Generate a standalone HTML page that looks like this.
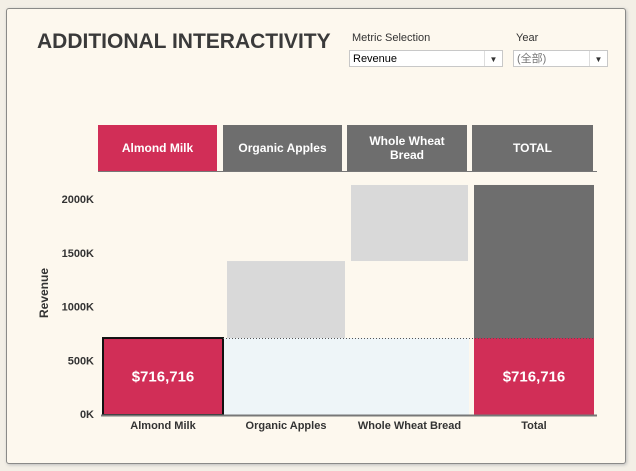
<!DOCTYPE html>
<html><head><meta charset="utf-8"><style>
body{margin:0;width:636px;height:471px;background:#f3efe6;font-family:"Liberation Sans","Noto Sans CJK SC",sans-serif;position:relative;overflow:hidden}
.panel{position:absolute;left:6px;top:8px;width:618px;height:454px;background:#fdf8ee;border:1px solid #8a8a88;border-radius:3px;box-shadow:1px 1px 3px #bbb}
.abs{position:absolute}
.title{left:37px;top:30px;font-size:21px;font-weight:bold;color:#3a3a3a}
.lbl{font-size:11px;color:#333}
.dd{height:17px;border:1px solid #c8c8c8;background:#fff;font-size:11px;line-height:17px;padding-left:3px;box-sizing:border-box}
.dd .arr{position:absolute;right:0;top:0;width:17px;height:15px;border-left:1px solid #ddd;font-size:8px;text-align:center;color:#333}
.hb{top:125px;height:46px;color:#fff;font-weight:bold;font-size:12px;display:flex;align-items:center;justify-content:center;text-align:center;line-height:14px}
</style></head><body>
<div class="panel"></div>
<div class="abs title">ADDITIONAL INTERACTIVITY</div>
<div class="abs lbl" style="left:352px;top:32px">Metric Selection</div>
<div class="abs dd" style="left:349px;top:50px;width:154px">Revenue<span class="arr">▼</span></div>
<div class="abs lbl" style="left:516px;top:32px">Year</div>
<div class="abs dd" style="left:513px;top:50px;width:95px;color:#777">(全部)<span class="arr">▼</span></div>
<div class="abs hb" style="left:98px;width:119px;background:#d12e57">Almond Milk</div>
<div class="abs hb" style="left:223px;width:119px;background:#6e6e6e">Organic Apples</div>
<div class="abs hb" style="left:347px;width:120px;background:#6e6e6e">Whole Wheat<br>Bread</div>
<div class="abs hb" style="left:472px;width:121px;background:#6e6e6e">TOTAL</div>
<div class="abs" style="left:98px;top:171px;width:499px;height:1px;background:#777"></div>
<svg class="abs" style="left:0;top:0" width="636" height="471" id="chart"></svg>
<script>
const categories=["Almond Milk","Organic Apples","Whole Wheat Bread"];
const values=[716716,717000,708000];
const ticks=[0,500000,1000000,1500000,2000000];
const tickLabels=["0K","500K","1000K","1500K","2000K"];
const xLabels=["Almond Milk","Organic Apples","Whole Wheat Bread","Total"];
const svg=document.getElementById('chart');
const NS='http://www.w3.org/2000/svg';
const y=v=>415-v*0.1074/1000;
const cols=[[103,120],[227,118],[351,117],[474,120]];
function el(t,a){const e=document.createElementNS(NS,t);for(const k in a)e.setAttribute(k,a[k]);svg.appendChild(e);return e;}
const total=values.reduce((a,b)=>a+b,0);
const sel=values[0];
let bg=el('rect',{x:224,y:y(sel),width:245,height:415-y(sel),fill:'#eef5f8'});


let cum=0;
values.forEach((v,i)=>{
  const [x,w]=cols[i];
  const r=el('rect',{x:x,y:y(cum+v),width:w,height:y(cum)-y(cum+v),fill:i===0?'#d12e57':'#d9d9d9'});
  if(i===0){r.setAttribute('stroke','#111');r.setAttribute('stroke-width','2');}
  
  
  cum+=v;
});
const [tx,tw]=cols[3];
let tr=el('rect',{x:tx,y:y(total),width:tw,height:415-y(total),fill:'#6e6e6e'});


let ts=el('rect',{x:tx,y:y(sel),width:tw,height:415-y(sel),fill:'#d12e57'});


let dl=el('line',{x1:223,x2:594,y1:y(sel)+0.5,y2:y(sel)+0.5,stroke:'#555','stroke-dasharray':'1,2'});


const fmt=v=>'$'+v.toLocaleString('en-US');
[[163],[534]].forEach((c,i)=>{
  const t=el('text',{x:c[0],y:(y(sel)+415)/2+5,'text-anchor':'middle',fill:'#fff','font-size':15,'font-weight':'bold','font-family':'Liberation Sans, sans-serif'});
  t.textContent=fmt(sel);
  
  
});
let ax=el('line',{x1:101,x2:597,y1:415.5,y2:415.5,stroke:'#777','stroke-width':2});


ticks.forEach((v,i)=>{
  const t=el('text',{x:94,y:y(v)+3,'text-anchor':'end',fill:'#333','font-size':11,'font-weight':'bold','font-family':'Liberation Sans, sans-serif'});
  t.textContent=tickLabels[i];
  
  
});
xLabels.forEach((l,i)=>{
  const [x,w]=cols[i];
  const t=el('text',{x:x+w/2,y:429,'text-anchor':'middle',fill:'#333','font-size':11,'font-weight':'bold','font-family':'Liberation Sans, sans-serif'});
  t.textContent=l;
  
  
});
const yt=el('text',{x:0,y:0,transform:'translate(48,318) rotate(-90)',fill:'#333','font-size':12,'font-weight':'bold','font-family':'Liberation Sans, sans-serif'});
yt.textContent='Revenue';


</script>
</body></html>
